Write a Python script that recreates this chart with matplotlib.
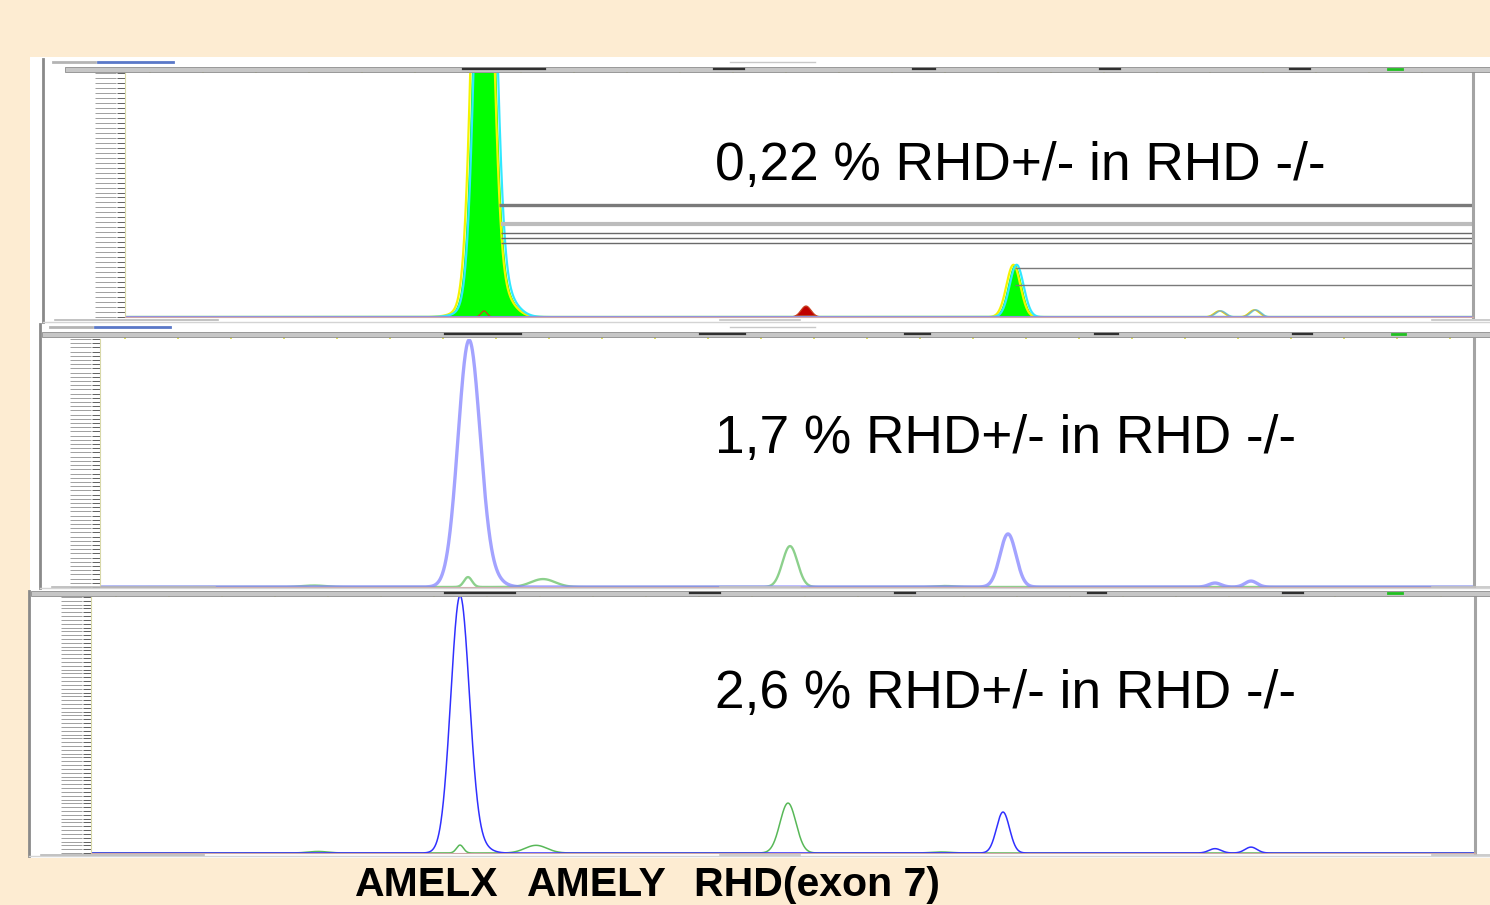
import numpy as np
import matplotlib.pyplot as plt
from matplotlib.patches import Rectangle

W, H = 1490, 905

# peaks: centre (screen x), height (fraction of full scale), width (sigma, px)
p1_green_pos = [484, 503, 479, 1015]
p1_green_hgt = [2.48, 0.08, 0.05, 0.214]
p1_green_wid = [8.8, 12, 16, 7]
p1_red_pos = [484, 806]
p1_red_hgt = [0.025, 0.045]
p1_red_wid = [3, 5]
p1_yellow_pos = [1220, 1255]
p1_yellow_hgt = [0.025, 0.029]
p1_yellow_wid = [5, 5]
# bin / allele lines in panel 1 (level, start)
p1_bin_lvl = [0.457, 0.383, 0.346, 0.325, 0.305, 0.202, 0.132]
p1_bin_from = [499, 501, 501, 501, 501, 1015, 1015]

p2_blue_pos = [469, 490, 1008, 1215, 1251]
p2_blue_hgt = [0.99, 0.035, 0.214, 0.016, 0.024]
p2_blue_wid = [11, 11, 8, 6, 6]
p2_green_pos = [314, 468, 543, 790, 945]
p2_green_hgt = [0.006, 0.04, 0.032, 0.165, 0.004]
p2_green_wid = [12, 4, 12, 7.5, 10]

p3_blue_pos = [460, 478, 1003, 1215, 1251]
p3_blue_hgt = [1.0, 0.03, 0.16, 0.017, 0.023]
p3_blue_wid = [9.3, 10, 6.5, 6, 6]
p3_green_pos = [318, 460, 536, 788, 941]
p3_green_hgt = [0.006, 0.031, 0.03, 0.195, 0.004]
p3_green_wid = [10, 3.5, 11, 8, 10]

labels = ["0,22 % RHD+/- in RHD -/-", "1,7 % RHD+/- in RHD -/-", "2,6 % RHD+/- in RHD -/-"]
markers = ["AMELX", "AMELY", "RHD(exon 7)"]


def trace(x, pos, hgt, wid):
    y = np.zeros_like(x)
    for p, h, w in zip(pos, hgt, wid):
        y += h * np.exp(-0.5 * ((x - p) / w) ** 2)
    return y


def panel(fig, x0, y0, x1, y1, nrows):
    ax = fig.add_axes([x0 / W, 1 - y1 / H, (x1 - x0) / W, (y1 - y0) / H])
    ax.set_xlim(x0, x1)
    ax.set_ylim(0, 1)
    ax.set_facecolor('white')
    ax.spines['top'].set_visible(False)
    ax.spines['right'].set_color('#a4a4a4')
    ax.spines['right'].set_linewidth(2.2)
    ax.spines['left'].set_color('#d8d8a8')
    ax.spines['bottom'].set_color('#d0a8a8')
    ax.spines['bottom'].set_linewidth(0.8)
    rows = np.linspace(0, 1, nrows)
    ax.set_yticks(rows)
    ax.set_yticklabels([])
    ax.tick_params(axis='y', length=6, width=0.7, color='#606060')
    ax.xaxis.tick_top()
    ax.set_xticks(np.arange(x0 + 25, x1, 53))
    ax.set_xticklabels([])
    ax.tick_params(axis='x', length=2.5, width=1.2, color='#d8d840')
    # the tiny y labels of the screenshot, shown as short grey dashes
    w = x1 - x0
    ax.hlines(rows, -30 / w, -9 / w, colors='#a0a0a0', lw=0.7,
              transform=ax.get_yaxis_transform(), clip_on=False)
    return ax


fig = plt.figure(figsize=(W / 100, H / 100), dpi=100)
fig.patch.set_facecolor('#fdecd2')
fig.add_artist(Rectangle((30 / W, 1 - 858 / H), 1460 / W, 801 / H,
                         transform=fig.transFigure, fc='white', ec='none', zorder=-5))

x = np.linspace(0, W, 6000)

# ---- panel 1: filled traces
ax1 = panel(fig, 125, 73, 1473, 317, 50)
g = trace(x, p1_green_pos, p1_green_hgt, p1_green_wid)
r = trace(x, p1_red_pos, p1_red_hgt, p1_red_wid)
yv = trace(x, p1_yellow_pos, p1_yellow_hgt, p1_yellow_wid)
ax1.plot(x - 1.6, g, color='#f4f400', lw=1.6)
ax1.plot(x + 1.6, g, color='#30e8ff', lw=1.6)
ax1.fill_between(x, r, color='#c00000', lw=0)
ax1.fill_between(x, g, color='#00ff00', lw=0)
ax1.plot(x, r, color='#c84020', lw=0.9)
ax1.plot(x - 1, yv, color='#e8e800', lw=1)
ax1.plot(x + 1, yv, color='#60e0e0', lw=1)
ax1.plot(x, yv, color='#a0a0a0', lw=0.8)
bin_col = ['#7a7a7a', '#bcbcbc', '#6a6a6a', '#6a6a6a', '#6a6a6a', '#7a7a7a', '#7a7a7a']
bin_lw = [2.4, 3.0, 1.0, 1.0, 1.0, 1.0, 1.0]
for lvl, start, c, lw in zip(p1_bin_lvl, p1_bin_from, bin_col, bin_lw):
    ax1.hlines(lvl, start, 1473, colors=c, lw=lw)
ax1.axhline(0.006, color='#9090e0', lw=0.8)

# ---- panel 2: light outline traces
ax2 = panel(fig, 100, 339, 1474, 587, 60)
ax2.plot(x, trace(x, p2_green_pos, p2_green_hgt, p2_green_wid), color='#78c878', lw=1.7, alpha=0.85)
ax2.plot(x, trace(x, p2_blue_pos, p2_blue_hgt, p2_blue_wid), color='#8484ff', lw=2.4, alpha=0.75)

# ---- panel 3: thin outline traces
ax3 = panel(fig, 91, 597, 1475, 853, 68)
ax3.plot(x, trace(x, p3_green_pos, p3_green_hgt, p3_green_wid), color='#58b858', lw=1.1)
ax3.plot(x, trace(x, p3_blue_pos, p3_blue_hgt, p3_blue_wid), color='#3030ff', lw=1.1)

# ---- window chrome of the three screenshots (pixel coordinates)
deco = fig.add_axes([0, 0, 1, 1], zorder=1)
deco.set_xlim(0, W)
deco.set_ylim(H, 0)
deco.axis('off')
deco.patch.set_alpha(0)

chrome = [
    # left border x, header top y, inner left x, bottom y, logo y
    (43, 67.5, 65, 322, 62),
    (40, 332, 42, 588, 327),
    (29, 591, 31, 856, None),
]
for bx, hy, ix, by, ly in chrome:
    deco.add_patch(Rectangle((ix, hy), W - ix, 4.5, fc='#c6c6c6', ec='#8c8c8c', lw=0.6))
    deco.plot([bx, bx], [hy - 8 if ly else hy, by], color='#8a8a8a', lw=2)
    deco.plot([bx, W], [by, by], color='#d4d4d4', lw=1)
    deco.plot([bx + 12, bx + 175], [by - 1.5, by - 1.5], color='#b8b8b8', lw=1.2)
    deco.plot([720, 800], [by - 1.5, by - 1.5], color='#c4c4c4', lw=1.2)
    deco.plot([1432, W], [by - 1.5, by - 1.5], color='#c4c4c4', lw=1.2)
    if ly:
        deco.plot([bx + 10, bx + 52], [ly, ly], color='#b4b4b4', lw=2)
        deco.plot([bx + 55, bx + 130], [ly, ly], color='#5a78c8', lw=2)
        deco.plot([730, 815], [ly, ly], color='#c8c8c8', lw=1)

hdr_marks = [
    (69.5, [(463, 545), (714, 744), (913, 935), (1100, 1120), (1290, 1310)], (1388, 1402)),
    (334, [(445, 521), (700, 745), (905, 930), (1095, 1118), (1293, 1312)], (1392, 1405)),
    (593, [(445, 515), (690, 720), (895, 915), (1088, 1106), (1283, 1303)], (1388, 1402)),
]
for hy, blacks, grn in hdr_marks:
    for a, b in blacks:
        deco.plot([a, b], [hy, hy], color='#303030', lw=1.6)
    deco.plot(grn, [hy, hy], color='#20c020', lw=2)

# ---- texts
ys = [180, 453, 708]
for lab, yb in zip(labels, ys):
    fig.text(715 / W, 1 - yb / H, lab, fontsize=38.3, family='Liberation Sans',
             va='baseline', ha='left', color='black')

for m, xm in zip(markers, [355, 527, 694]):
    fig.text(xm / W, 1 - 896 / H, m, fontsize=29.5, family='Liberation Sans',
             weight='bold', va='baseline', ha='left', color='black')

fig.savefig('out.png', dpi=100, facecolor=fig.get_facecolor())
